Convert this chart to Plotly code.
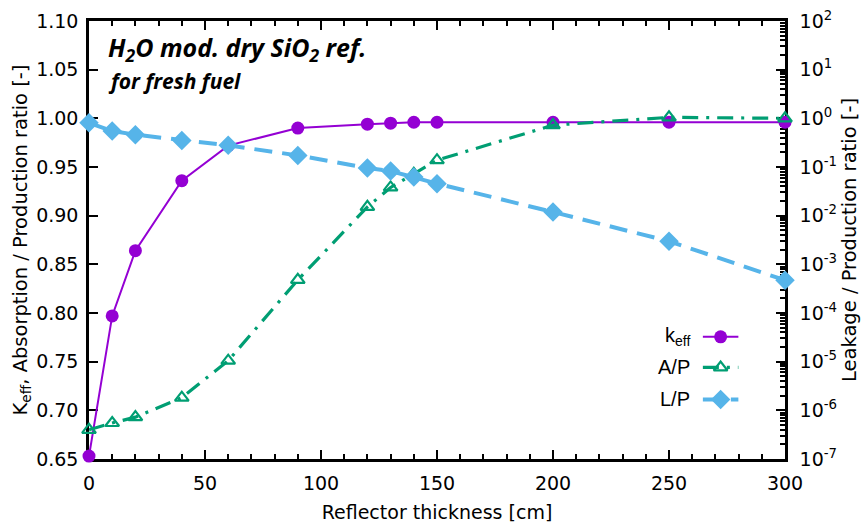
import plotly.graph_objects as go

# Reflector thickness [cm]
thickness = [0, 10, 20, 40, 60, 90, 120, 130, 140, 150, 200, 250, 300]
# Effective multiplication factor
keff = [0.653, 0.797, 0.864, 0.936, 0.972, 0.990, 0.994, 0.995, 0.996, 0.996, 0.996, 0.996, 0.996]
# Absorption / production ratio
ap_ratio = [0.680, 0.687, 0.693, 0.713, 0.751, 0.834, 0.909, 0.929, 0.943, 0.957, 0.993, 1.001, 1.000]
# Leakage / production ratio (log axis)
lp_ratio = [0.81, 0.547, 0.461, 0.352, 0.279, 0.173, 0.0953, 0.0826, 0.0622, 0.0455, 0.0119, 0.00298, 0.000472]

left_ticks = [0.65, 0.70, 0.75, 0.80, 0.85, 0.90, 0.95, 1.00, 1.05, 1.10]
right_exps = list(range(-7, 3))

PURPLE = "#9400D3"
GREEN = "#009E73"
BLUE = "#56B4E9"
TICK_FONT = dict(family="DejaVu Sans", size=19, color="black")
YTITLE_FONT = dict(family="DejaVu Sans", size=19.5, color="black")

series = [
    dict(name="k<sub>eff</sub>", y=keff, axis="y", color=PURPLE, width=2, dash="solid",
         marker=dict(symbol="circle", size=13, color=PURPLE)),
    dict(name="A/P", y=ap_ratio, axis="y", color=GREEN, width=3.2, dash="16px,8px,3px,8px",
         marker=dict(symbol="triangle-up-open", size=12, color=GREEN, line=dict(width=2.2, color=GREEN))),
    dict(name="L/P", y=lp_ratio, axis="y2", color=BLUE, width=4, dash="18px,10px",
         marker=dict(symbol="diamond", size=15, color=BLUE)),
]

fig = go.Figure()
for s in series:
    fig.add_trace(go.Scatter(
        x=thickness, y=s["y"], yaxis=s["axis"], mode="lines+markers",
        line=dict(color=s["color"], width=s["width"], dash=s["dash"]),
        marker=s["marker"], cliponaxis=False, showlegend=False, name=s["name"],
    ))

# Key drawn on a hidden overlay axis: label on the left, sample on the right
key_rows = [0.279, 0.209, 0.136]
key_x0, key_x1, key_text_x = 0.882, 0.933, 0.866
for s, ky in zip(series, key_rows):
    fig.add_trace(go.Scatter(
        x=[key_x0, key_x1], y=[ky, ky], xaxis="x3", yaxis="y3", mode="lines",
        line=dict(color=s["color"], width=s["width"], dash=s["dash"]),
        showlegend=False, hoverinfo="skip", cliponaxis=False,
    ))
    fig.add_trace(go.Scatter(
        x=[(key_x0 + key_x1) / 2], y=[ky], xaxis="x3", yaxis="y3", mode="markers",
        marker=s["marker"], showlegend=False, hoverinfo="skip", cliponaxis=False,
    ))
    fig.add_annotation(
        x=key_text_x, y=ky, xref="paper", yref="paper", xanchor="right", yanchor="middle",
        text=s["name"], showarrow=False,
        font=dict(family="Liberation Sans", size=20, color="black"),
    )

fig.add_annotation(
    x=0.025, y=0.985, xref="paper", yref="paper", xanchor="left", yanchor="top",
    text="<b><i>H<sub>2</sub>O mod. dry SiO<sub>2</sub> ref.</i></b>", showarrow=False,
    font=dict(family="Open Sans", size=25, color="black"),
)
fig.add_annotation(
    x=0.025, y=0.9, xref="paper", yref="paper", xanchor="left", yanchor="top",
    text="<b><i>for fresh fuel</i></b>", showarrow=False,
    font=dict(family="Open Sans", size=21, color="black"),
)

# Right-hand axis title
fig.add_annotation(
    x=1.092, y=0.5, xref="paper", yref="paper", xanchor="center", yanchor="middle",
    text="Leakage / Production ratio [-]", textangle=-90, showarrow=False,
    font=YTITLE_FONT,
)

fig.update_layout(
    width=861, height=530,
    margin=dict(l=89, r=76, t=21, b=71),
    paper_bgcolor="white", plot_bgcolor="white",
    xaxis=dict(
        range=[0, 300], dtick=50, tick0=0, ticks="inside", ticklen=9, tickwidth=2,
        tickcolor="black", showline=True, linecolor="black", linewidth=2.5,
        mirror="ticks", showgrid=False, zeroline=False, tickfont=TICK_FONT,
        ticklabelstandoff=5, layer="below traces", automargin=False,
        minor=dict(dtick=10, ticks="inside", ticklen=5, tickwidth=2, tickcolor="black", showgrid=False),
        title=dict(text="Reflector thickness [cm]", font=TICK_FONT, standoff=14),
    ),
    yaxis=dict(
        range=[0.65, 1.10], tickvals=left_ticks, ticktext=[f"{v:.2f}" for v in left_ticks],
        ticks="inside", ticklen=9, tickwidth=2, tickcolor="black",
        showline=True, linecolor="black", linewidth=2.5, mirror=False,
        showgrid=False, zeroline=False, tickfont=TICK_FONT, ticklabelstandoff=4,
        layer="below traces", automargin=False,
        title=dict(text="K<sub>eff</sub>, Absorption / Production ratio [-]", font=YTITLE_FONT, standoff=4),
    ),
    yaxis2=dict(
        type="log", range=[-7, 2], overlaying="y", side="right",
        tickvals=[10 ** e for e in right_exps],
        ticktext=[f"10<sup>{e}</sup>" for e in right_exps],
        ticks="inside", ticklen=9, tickwidth=2, tickcolor="black",
        showline=True, linecolor="black", linewidth=2.5,
        showgrid=False, zeroline=False, tickfont=TICK_FONT, ticklabelstandoff=8,
        layer="below traces", automargin=False,
        minor=dict(tickvals=[m * 10 ** e for e in right_exps[:-1] for m in range(2, 10)],
                   ticks="inside", ticklen=5, tickwidth=2, tickcolor="black", showgrid=False),
    ),
    xaxis3=dict(range=[0, 1], overlaying="x", visible=False),
    yaxis3=dict(range=[0, 1], overlaying="y", visible=False),
)

fig.write_html("out.html")
